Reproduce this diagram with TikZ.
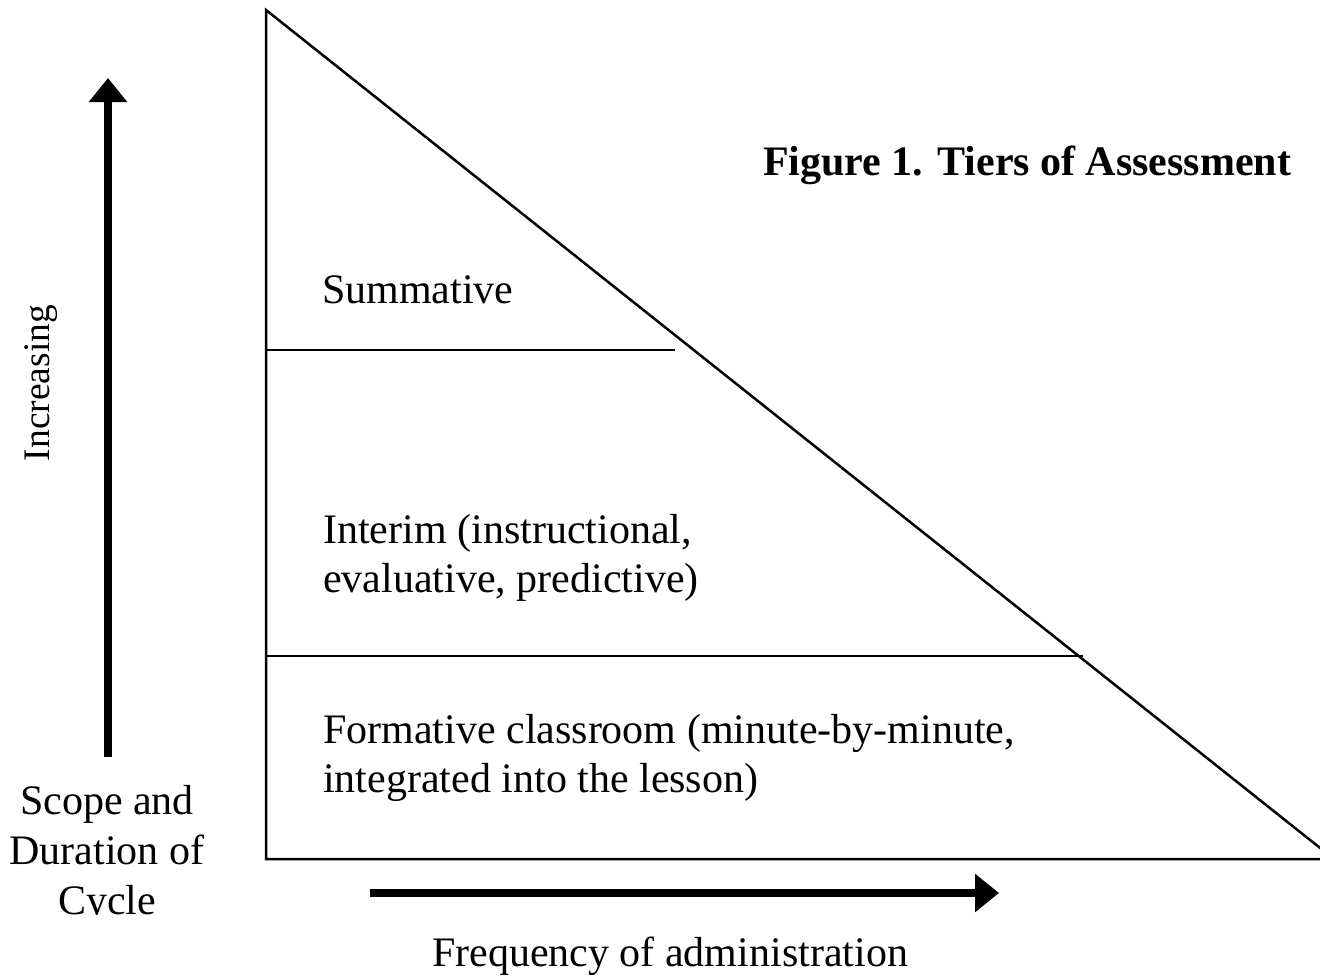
\documentclass[tikz,border=0pt]{standalone}
\usepackage{fontspec}
\setmainfont{Liberation Serif}
\usetikzlibrary{arrows.meta}
\tikzset{
  thinline/.style={line width=2.5pt, line cap=butt},
  bigarrow/.style={line width=8pt, -{Triangle[length=24pt,width=37pt]}},
  bodytext/.style={inner sep=0pt, anchor=base west, font=\fontsize{42}{49}\selectfont},
  centertext/.style={inner sep=0pt, anchor=base, font=\fontsize{42}{49}\selectfont},
}
\begin{document}
\begin{tikzpicture}[x=1pt,y=-1pt]
\useasboundingbox (0,0) rectangle (1320,977);
\clip (0,0) rectangle (1320,977);
% triangle
\coordinate (top) at (266,10);
\coordinate (bl) at (266,859);
\coordinate (br) at (1334,859);
\draw[thinline, line join=miter] (top) -- (bl) -- (br) -- cycle;
% tier lines
\coordinate (s1) at (266,350);
\coordinate (s2) at (675,350);
\coordinate (i1) at (266,656);
\coordinate (i2) at (1083,656);
\draw[thinline] (s1) -- (s2);
\draw[thinline] (i1) -- (i2);
% arrows
\coordinate (upfrom) at (108,757);
\coordinate (upto) at (108,78);
\draw[bigarrow] (upfrom) -- (upto);
\coordinate (rfrom) at (370,893);
\coordinate (rto) at (999,893);
\draw[bigarrow] (rfrom) -- (rto);
% texts
\node[inner sep=0pt, anchor=base west, font=\fontsize{42}{49}\selectfont\bfseries] (title) at (763,175) {Figure 1. Tiers of Assessment};
\node[bodytext] (summ) at (322,303) {Summative};
\node[bodytext] (int1) at (323,543) {Interim (instructional,};
\node[bodytext] (int2) at (323,592) {evaluative, predictive)};
\node[bodytext] (form1) at (323,743) {Formative classroom (minute-by-minute,};
\node[bodytext] (form2) at (323,792) {integrated into the lesson)};
\node[inner sep=0pt, anchor=base, rotate=90, font=\fontsize{37.5}{44}\selectfont] (incr) at (49,383) {Increasing};
\node[centertext] (scope1) at (107,814) {Scope and};
\node[centertext] (scope2) at (107,864) {Duration of};
\begin{scope}
\clip (0,860) rectangle (300,914.5);
\node[centertext] (scope3) at (107,914) {Cycle};
\end{scope}
\node[centertext] (freq) at (670,966) {Frequency of administration};
\end{tikzpicture}
\end{document}
